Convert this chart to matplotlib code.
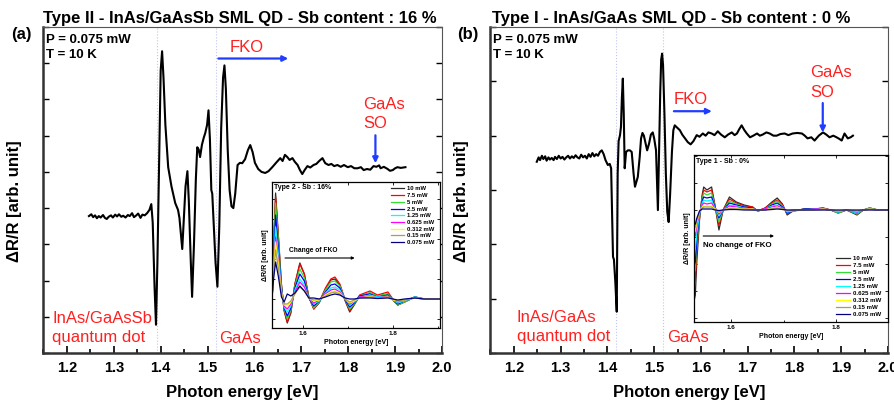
import matplotlib
matplotlib.use('Agg')
import matplotlib.pyplot as plt
from matplotlib.ticker import MultipleLocator

plt.rcParams['font.family'] = ['Liberation Sans', 'DejaVu Sans']

W, H = 894, 401

# ---- panel (a): Type II, 0.075 mW, 10 K ----
E_a = [1.247, 1.252, 1.256, 1.260, 1.264, 1.268, 1.272, 1.277, 1.281, 1.285,
       1.289, 1.294, 1.298, 1.303, 1.307, 1.311, 1.316, 1.320, 1.325, 1.330,
       1.334, 1.339, 1.343, 1.348, 1.352, 1.357, 1.361, 1.366, 1.371, 1.376,
       1.380, 1.383, 1.387, 1.390, 1.393, 1.397, 1.400, 1.403, 1.406, 1.410,
       1.416, 1.423, 1.431, 1.437, 1.440, 1.446, 1.449, 1.453, 1.457, 1.460,
       1.464, 1.467, 1.471, 1.475, 1.478, 1.481, 1.484, 1.488, 1.492, 1.495,
       1.499, 1.502, 1.505, 1.508, 1.510, 1.513, 1.517, 1.521, 1.525, 1.529,
       1.533, 1.536, 1.539, 1.543, 1.547, 1.551, 1.555, 1.559, 1.564, 1.569,
       1.574, 1.580, 1.586, 1.591, 1.596, 1.601, 1.608, 1.615, 1.623, 1.630,
       1.638, 1.646, 1.655, 1.660, 1.665, 1.670, 1.675, 1.681, 1.686, 1.692,
       1.697, 1.702, 1.707, 1.713, 1.719, 1.726, 1.732, 1.738, 1.745, 1.751,
       1.758, 1.764, 1.770, 1.777, 1.784, 1.791, 1.799, 1.806, 1.813, 1.820,
       1.827, 1.833, 1.840, 1.847, 1.854, 1.860, 1.866, 1.869, 1.876, 1.884,
       1.889, 1.895, 1.900, 1.905, 1.912, 1.922]
dR_a = [2.78, 2.83, 2.75, 2.80, 2.72, 2.78, 2.74, 2.81, 2.73, 2.70,
        2.76, 2.80, 2.74, 2.82, 2.77, 2.83, 2.76, 2.79, 2.74, 2.81,
        2.78, 2.86, 2.75, 2.80, 2.85, 2.73, 2.82, 2.80, 2.86, 2.95,
        3.11, 2.60, 0.80, -0.22, 1.50, 4.50, 6.80, 7.33, 6.60, 5.30,
        4.13, 3.60, 3.14, 2.95, 2.73, 1.87, 2.60, 3.60, 4.02, 3.20,
        1.60, 0.55, 2.00, 3.80, 4.68, 4.62, 4.41, 4.75, 4.95, 5.07,
        5.30, 5.70, 4.90, 3.50, 3.40, 2.60, 1.50, 0.83, 2.50, 5.20,
        6.60, 6.94, 6.30, 4.60, 3.50, 3.05, 3.00, 3.40, 4.19, 4.25,
        4.24, 4.35, 4.60, 4.74, 4.55, 4.25, 4.08, 4.00, 3.97, 4.02,
        4.13, 4.25, 4.38, 4.30, 4.47, 4.41, 4.33, 4.38, 4.28, 4.19,
        4.05, 3.94, 4.05, 4.16, 4.12, 4.19, 4.22, 4.30, 4.38, 4.24,
        4.19, 4.22, 4.16, 4.19, 4.14, 4.19, 4.13, 4.16, 4.10, 4.10,
        4.13, 4.05, 4.08, 4.06, 4.16, 4.14, 4.18, 4.10, 4.14, 4.08,
        4.03, 4.05, 4.10, 4.13, 4.11, 4.13]

# ---- panel (b): Type I, 0.075 mW, 10 K ----
E_b = [1.249, 1.253, 1.256, 1.260, 1.263, 1.267, 1.270, 1.274, 1.277, 1.281,
       1.285, 1.288, 1.292, 1.296, 1.300, 1.304, 1.308, 1.312, 1.316, 1.320,
       1.324, 1.328, 1.332, 1.336, 1.340, 1.344, 1.348, 1.352, 1.356, 1.360,
       1.364, 1.368, 1.372, 1.376, 1.380, 1.384, 1.388, 1.392, 1.396, 1.401,
       1.405, 1.408, 1.410, 1.412, 1.414, 1.417, 1.420, 1.422, 1.424, 1.427,
       1.429, 1.431, 1.433, 1.435, 1.437, 1.440, 1.444, 1.448, 1.452, 1.456,
       1.459, 1.462, 1.465, 1.469, 1.472, 1.475, 1.478, 1.482, 1.485, 1.489,
       1.493, 1.497, 1.500, 1.504, 1.506, 1.508, 1.510, 1.513, 1.515, 1.517,
       1.519, 1.522, 1.525, 1.528, 1.531, 1.534, 1.538, 1.541, 1.544, 1.549,
       1.555, 1.560, 1.566, 1.572, 1.578, 1.584, 1.591, 1.597, 1.604, 1.610,
       1.616, 1.623, 1.629, 1.636, 1.643, 1.651, 1.658, 1.666, 1.672, 1.677,
       1.682, 1.687, 1.693, 1.698, 1.705, 1.712, 1.720, 1.726, 1.732, 1.740,
       1.747, 1.755, 1.762, 1.770, 1.779, 1.787, 1.796, 1.806, 1.816, 1.822,
       1.828, 1.836, 1.843, 1.852, 1.861, 1.868, 1.875, 1.883, 1.890, 1.896,
       1.901, 1.907, 1.914, 1.920, 1.925]
dR_b = [2.52, 2.60, 2.55, 2.63, 2.57, 2.62, 2.54, 2.60, 2.56, 2.59,
        2.55, 2.61, 2.57, 2.63, 2.58, 2.61, 2.56, 2.60, 2.63, 2.58,
        2.62, 2.59, 2.64, 2.60, 2.58, 2.65, 2.60, 2.63, 2.58, 2.66,
        2.61, 2.68, 2.62, 2.66, 2.63, 2.70, 2.73, 2.66, 2.55, 2.46,
        2.48, 2.40, 1.57, 0.77, 0.72, 0.30, -0.24, 2.31, 2.90, 3.01,
        3.16, 3.70, 4.05, 3.40, 2.40, 2.70, 2.73, 2.73, 2.70, 2.30,
        2.06, 2.15, 2.24, 2.60, 2.95, 3.05, 3.00, 2.85, 2.73, 2.85,
        3.02, 3.06, 2.95, 2.73, 2.20, 1.63, 2.50, 3.80, 4.40, 4.51,
        4.30, 3.40, 2.30, 1.60, 1.41, 1.90, 2.70, 3.10, 3.19, 3.15,
        3.10, 3.02, 2.95, 2.88, 2.84, 2.90, 3.01, 2.98, 3.04, 3.00,
        3.06, 3.04, 3.01, 3.08, 3.02, 2.97, 3.02, 3.06, 3.01, 3.04,
        3.12, 3.19, 3.10, 3.04, 2.97, 3.00, 3.04, 3.00, 3.02, 3.06,
        3.04, 3.00, 3.00, 3.03, 3.04, 3.01, 3.04, 3.05, 3.04, 3.00,
        2.95, 2.97, 2.91, 3.00, 3.06, 3.02, 2.97, 3.00, 2.97, 2.94,
        2.91, 3.04, 2.95, 2.97, 3.00]

# ---- insets: power series ----
powers = ['10 mW', '7.5 mW', '5 mW', '2.5 mW', '1.25 mW', '0.625 mW',
          '0.312 mW', '0.15 mW', '0.075 mW']
colors = ['#2a2a2a', '#ff0000', '#33dd33', '#0000ff', '#00ffff', '#ff00ff',
          '#ffff00', '#a8a050', '#000080']

Ein_a = [1.531, 1.535, 1.539, 1.545, 1.552, 1.558, 1.565, 1.573, 1.582, 1.593,
         1.603, 1.613, 1.624, 1.636, 1.650, 1.662, 1.671, 1.682, 1.694, 1.704,
         1.714, 1.726, 1.749, 1.766, 1.789, 1.800, 1.811, 1.826, 1.849, 1.870,
         1.905]
ins_a = [
    [-1.0, 6.0, 10.6, 6.5, 1.5, -1.2, -2.4, -1.4, 1.5, 3.6, 2.5, 0.2, -1.0, -0.4, 1.0, 1.9,
     2.0, 1.4, -0.2, -1.3, -0.6, 0.3, 0.6, 0.3, 0.5, -0.1, -0.6, -0.3, 0.2, 0.0, 0.0],
    [-0.8, 5.8, 10.2, 6.3, 1.4, -1.1, -2.3, -1.3, 1.5, 3.5, 2.5, 0.2, -1.0, -0.3, 1.1, 2.0,
     2.2, 1.5, -0.1, -1.2, -0.5, 0.4, 0.8, 0.4, 0.7, 0.0, -0.6, -0.3, 0.2, 0.0, 0.0],
    [-0.6, 5.4, 9.6, 5.9, 1.3, -1.0, -2.0, -1.1, 1.3, 3.0, 2.1, 0.2, -0.9, -0.3, 0.9, 1.7,
     1.8, 1.3, -0.1, -1.0, -0.5, 0.3, 0.6, 0.3, 0.5, -0.1, -0.6, -0.3, 0.2, 0.0, 0.0],
    [-0.5, 4.7, 8.4, 5.2, 1.1, -0.9, -1.7, -0.9, 1.1, 2.5, 1.8, 0.1, -0.7, -0.2, 0.7, 1.4,
     1.5, 1.1, -0.1, -0.8, -0.4, 0.3, 0.5, 0.2, 0.4, -0.1, -0.5, -0.2, 0.2, 0.0, 0.0],
    [-0.3, 4.0, 7.2, 4.5, 0.9, -0.8, -1.3, -0.7, 0.9, 2.0, 1.4, 0.1, -0.5, -0.2, 0.6, 1.1,
     1.2, 0.9, 0.0, -0.6, -0.3, 0.2, 0.4, 0.2, 0.3, -0.1, -0.4, -0.2, 0.2, 0.0, 0.0],
    [-0.2, 3.4, 6.2, 3.9, 0.8, -0.7, -1.0, -0.5, 0.7, 1.7, 1.2, 0.1, -0.4, -0.1, 0.5, 0.9,
     1.0, 0.7, 0.0, -0.5, -0.2, 0.2, 0.3, 0.1, 0.3, -0.1, -0.3, -0.1, 0.1, 0.0, 0.0],
    [-0.1, 3.2, 5.7, 3.6, 0.7, -0.6, -0.7, -0.3, 0.6, 1.3, 0.9, 0.1, -0.2, -0.1, 0.4, 0.7,
     0.8, 0.6, 0.0, -0.4, -0.2, 0.1, 0.25, 0.1, 0.2, -0.1, -0.2, -0.1, 0.1, 0.0, 0.0],
    [0.0, 2.8, 4.9, 3.1, 0.6, -0.5, -0.5, -0.2, 0.5, 1.2, 0.8, 0.1, -0.1, 0.0, 0.3, 0.6,
     0.7, 0.5, 0.0, -0.3, -0.1, 0.1, 0.2, 0.1, 0.2, 0.0, -0.2, -0.1, 0.1, 0.0, 0.0],
    [0.2, 2.2, 3.7, 2.3, 0.2, -0.3, 0.5, 0.3, 0.6, 1.3, 0.8, 0.1, 0.1, 0.0, 0.2, 0.4,
     0.5, 0.4, 0.1, 0.0, 0.0, 0.1, 0.1, 0.05, 0.1, 0.0, -0.1, 0.0, 0.1, 0.0, 0.0],
]

Ein_b = [1.530, 1.532, 1.535, 1.540, 1.545, 1.548, 1.554, 1.563, 1.570, 1.577,
         1.585, 1.597, 1.610, 1.625, 1.641, 1.651, 1.665, 1.678, 1.688, 1.698,
         1.707, 1.718, 1.740, 1.760, 1.775, 1.790, 1.804, 1.820, 1.840, 1.852,
         1.864, 1.880, 1.899]
ins_b = [
    [-9.0, -8.5, -5.0, -1.0, 1.5, 2.3, 2.0, 2.3, 0.3, -2.0, 0.0, 1.3, 0.8, 0.5, 0.3, -0.1,
     0.2, 0.8, 1.2, 0.6, -0.5, -0.1, 0.1, 0.1, 0.2, 0.0, -0.3, 0.0, -0.5, 0.0, 0.2, 0.0, 0.0],
    [-7.3, -7.0, -4.0, -0.8, 1.3, 2.0, 1.8, 2.0, 0.3, -1.5, 0.0, 1.1, 0.7, 0.4, 0.3, -0.1,
     0.2, 0.7, 1.0, 0.5, -0.4, -0.1, 0.1, 0.1, 0.2, 0.0, -0.3, 0.0, -0.4, 0.0, 0.2, 0.0, 0.0],
    [-6.2, -6.0, -3.4, -0.7, 1.1, 1.7, 1.5, 1.7, 0.2, -1.2, 0.0, 0.9, 0.6, 0.3, 0.2, -0.1,
     0.1, 0.6, 0.9, 0.4, -0.3, -0.1, 0.1, 0.1, 0.1, 0.0, -0.3, 0.0, -0.4, 0.0, 0.2, 0.0, 0.0],
    [-5.5, -5.2, -2.9, -0.5, 0.9, 1.3, 1.2, 1.3, 0.2, -0.8, 0.0, 0.7, 0.5, 0.3, 0.2, -0.1,
     0.1, 0.5, 0.7, 0.3, -0.3, -0.1, 0.1, 0.1, 0.1, 0.0, -0.2, 0.0, -0.3, 0.0, 0.1, 0.0, 0.0],
    [-4.0, -3.9, -2.2, -0.4, 0.7, 1.0, 0.9, 1.0, 0.1, -0.6, 0.0, 0.5, 0.4, 0.2, 0.1, -0.1,
     0.1, 0.4, 0.5, 0.2, -0.2, -0.1, 0.0, 0.1, 0.1, 0.0, -0.2, 0.0, -0.3, 0.0, 0.1, 0.0, 0.0],
    [-2.7, -2.6, -1.5, -0.3, 0.5, 0.7, 0.6, 0.7, 0.1, -0.4, 0.0, 0.4, 0.3, 0.2, 0.1, 0.0,
     0.1, 0.3, 0.4, 0.2, -0.1, 0.0, 0.0, 0.1, 0.1, 0.0, -0.1, 0.0, -0.2, 0.0, 0.1, 0.0, 0.0],
    [-2.2, -2.1, -1.2, -0.2, 0.3, 0.4, 0.4, 0.4, 0.1, -0.25, 0.0, 0.2, 0.2, 0.1, 0.1, 0.0,
     0.0, 0.2, 0.3, 0.1, -0.1, 0.0, 0.0, 0.0, 0.1, 0.0, -0.1, 0.0, -0.1, 0.0, 0.1, 0.0, 0.0],
    [-1.8, -1.7, -1.0, -0.2, 0.2, 0.3, 0.3, 0.3, 0.0, -0.2, 0.0, 0.15, 0.1, 0.1, 0.0, 0.0,
     0.0, 0.15, 0.2, 0.1, -0.1, 0.0, 0.0, 0.0, 0.05, 0.0, -0.1, 0.0, -0.1, 0.0, 0.05, 0.0, 0.0],
    [-1.5, -1.4, -0.8, -0.1, 0.1, 0.1, 0.1, 0.1, 0.0, -0.05, 0.0, 0.05, 0.05, 0.0, 0.0, 0.0,
     0.0, 0.05, 0.1, 0.05, 0.0, 0.0, 0.0, 0.0, 0.0, 0.0, 0.0, 0.0, 0.0, 0.0, 0.0, 0.0, 0.0],
]

fig = plt.figure(figsize=(W / 100, H / 100), dpi=100)


def fx(x):
    return x / W


def fy(y):
    return 1 - y / H


def rect(x0, y0, x1, y1):
    # pixel box -> figure fraction [left, bottom, width, height]
    return [x0 / W, 1 - y1 / H, (x1 - x0) / W, (y1 - y0) / H]


def main_panel(box, E, dR, ylim, dots):
    ax = fig.add_axes(box)
    for d in dots:
        ax.axvline(d, color='#c4c4f0', lw=0.8, ls=':', zorder=0)
    ax.plot(E, dR, color='k', lw=1.5)
    ax.set_xlim(1.149, 2.0)
    ax.set_ylim(*ylim)
    ax.xaxis.set_major_locator(MultipleLocator(0.1))
    ax.xaxis.set_minor_locator(MultipleLocator(0.05))
    ax.yaxis.set_major_locator(MultipleLocator(1))
    ax.tick_params(axis='x', which='both', direction='in', top=False, pad=6,
                   labelsize=10.5, width=1.2)
    ax.tick_params(axis='x', which='major', length=5)
    ax.tick_params(axis='x', which='minor', length=3)
    ax.tick_params(axis='y', which='major', direction='in', left=True, right=True,
                   labelleft=False, length=4, width=1)
    for lab in ax.get_xticklabels():
        lab.set_fontweight('bold')
    for s in ['bottom', 'left']:
        ax.spines[s].set_linewidth(1.8)
        ax.spines[s].set_color('#333333')
    for s in ['top', 'right']:
        ax.spines[s].set_linewidth(0.8)
        ax.spines[s].set_color('#555555')
    ax.set_xlabel('Photon energy [eV]', fontsize=12, fontweight='bold', labelpad=7)
    ax.set_ylabel('ΔR/R [arb. unit]', fontsize=12, fontweight='bold')
    ax.yaxis.set_label_coords(-0.052, 0.466)
    return ax


def inset(box, E, series, xlim, ylim, ystep, name):
    ax = fig.add_axes(box)
    for vals, c, lab in zip(series, colors, powers):
        ax.plot(E, vals, color=c, lw=0.9, label=lab)
    ax.set_xlim(*xlim)
    ax.set_ylim(*ylim)
    ax.xaxis.set_major_locator(MultipleLocator(0.2))
    ax.xaxis.set_minor_locator(MultipleLocator(0.1))
    ax.yaxis.set_major_locator(MultipleLocator(ystep))
    ax.tick_params(which='both', direction='in', top=True, right=True,
                   labelleft=False, labelsize=4.5, pad=2, width=0.6)
    ax.tick_params(which='major', length=2.5)
    ax.tick_params(which='minor', length=1.8)
    for lab in ax.get_xticklabels():
        lab.set_fontweight('bold')
    for s in ax.spines.values():
        s.set_linewidth(0.9)
    ax.set_xlabel('Photon energy [eV]', fontsize=5, fontweight='bold', labelpad=2)
    ax.set_ylabel('ΔR/R [arb. unit]', fontsize=5, fontweight='bold', labelpad=2)
    ax.text(0.01, 0.985, name, transform=ax.transAxes, fontsize=5,
            fontweight='bold', ha='left', va='top')
    return ax


# main panels
ax1 = main_panel(rect(43, 27, 442, 353), E_a, dR_a, (-1, 8), [1.393, 1.519])
ax2 = main_panel(rect(490, 27, 888, 353), E_b, dR_b, (-1, 5), [1.418, 1.519])

arrow = dict(arrowstyle='-|>', color='#1f3cff', lw=1.6, mutation_scale=8,
             shrinkA=0, shrinkB=0)
ax1.annotate('', xy=(1.672, 7.13), xytext=(1.523, 7.13), arrowprops=arrow)
ax1.annotate('', xy=(1.858, 4.24), xytext=(1.858, 5.01), arrowprops=arrow)
ax2.annotate('', xy=(1.6234, 3.45), xytext=(1.5422, 3.45), arrowprops=arrow)
ax2.annotate('', xy=(1.8605, 3.06), xytext=(1.8605, 3.60), arrowprops=arrow)

red = '#ff2020'
txt = [
    # (x px, baseline y px, text, size, weight, colour)
    (43, 23, 'Type II - InAs/GaAsSb SML QD - Sb content : 16 %', 12, 'bold', 'k'),
    (492, 23, 'Type I - InAs/GaAs SML QD - Sb content : 0 %', 12, 'bold', 'k'),
    (11, 39, '(a)', 12, 'bold', 'k'),
    (457, 39, '(b)', 12, 'bold', 'k'),
    (46, 43, 'P = 0.075 mW', 9.5, 'bold', 'k'),
    (46, 58, 'T = 10 K', 9.5, 'bold', 'k'),
    (493, 43, 'P = 0.075 mW', 9.5, 'bold', 'k'),
    (493, 58, 'T = 10 K', 9.5, 'bold', 'k'),
    (230, 52, 'FKO', 12, 'normal', red),
    (363, 109, 'GaAs', 12, 'normal', red),
    (363, 128, 'SO', 12, 'normal', red),
    (52, 323, 'InAs/GaAsSb', 12, 'normal', red),
    (52, 342, 'quantum dot', 12, 'normal', red),
    (219, 343, 'GaAs', 12, 'normal', red),
    (674, 104, 'FKO', 12, 'normal', red),
    (810, 77, 'GaAs', 12, 'normal', red),
    (810, 97, 'SO', 12, 'normal', red),
    (517, 322, 'InAs/GaAs', 12, 'normal', red),
    (517, 341, 'quantum dot', 12, 'normal', red),
    (667, 342, 'GaAs', 12, 'normal', red),
]
for x, y, s, size, w, c in txt:
    fig.text(fx(x), fy(y), s, fontsize=size, fontweight=w, color=c,
             ha='left', va='baseline')

# insets
in1 = inset(rect(272, 182, 440, 328), Ein_a, ins_a, (1.531, 1.905), (-2.9, 11.7),
            2.0, 'Type 2 - Sb : 16%')
in1.legend(loc='upper right', bbox_to_anchor=(0.99, 1.0), frameon=False,
           borderpad=0.25, labelspacing=0.28, handlelength=2.3,
           handletextpad=0.4, prop={'weight': 'bold', 'size': 4.2})
in1.annotate('', xy=(1.715, 4.1), xytext=(1.560, 4.1),
             arrowprops=dict(arrowstyle='-|>', color='k', lw=0.8,
                             mutation_scale=4, shrinkA=0, shrinkB=0))
in1.text(1.568, 4.7, 'Change of FKO', fontsize=4.8, fontweight='bold')

in2 = inset(rect(694, 155, 888, 322), Ein_b, ins_b, (1.5295, 1.899), (-11.2, 5.5),
            2.7, 'Type 1 - Sb : 0%')
in2.legend(loc='lower right', bbox_to_anchor=(0.99, 0.0), frameon=False,
           borderpad=0.3, labelspacing=0.28, handlelength=2.3,
           handletextpad=0.4, prop={'weight': 'bold', 'size': 4.4})
in2.annotate('', xy=(1.682, -2.6), xytext=(1.547, -2.6),
             arrowprops=dict(arrowstyle='-|>', color='k', lw=0.8,
                             mutation_scale=4, shrinkA=0, shrinkB=0))
in2.text(1.547, -3.7, 'No change of FKO', fontsize=5.7, fontweight='bold')

fig.savefig('out.png', dpi=100)
